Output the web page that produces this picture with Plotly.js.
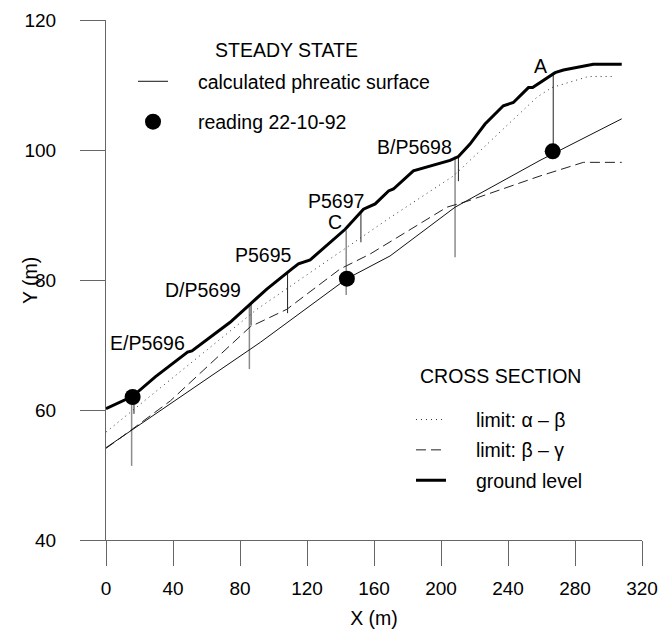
<!DOCTYPE html>
<html>
<head>
<meta charset="utf-8">
<script src="https://cdn.plot.ly/plotly-3.0.1.min.js"></script>
<style>html,body{margin:0;padding:0;background:#fff;}#chart{width:659px;height:629px;}</style>
</head>
<body>
<div id="chart"></div>
<script>
// ---- data (X in m, Y in m) ----
var groundX = [0, 15.9, 29.4, 48.7, 51.3, 74.1, 86.1, 96.0, 111.0, 114.9, 121.9, 142.8, 153.7, 160.7, 168.7, 171.6, 183.5, 205.4, 210.4, 217.3, 226.3, 234.3, 237.2, 243.2, 249.1, 252.2, 254.7, 268.1, 273.1, 290.9, 307.9];
var groundY = [60.2, 62.1, 65.1, 68.9, 69.1, 73.5, 76.3, 78.6, 81.7, 82.5, 83.1, 87.8, 90.9, 91.7, 93.7, 94.0, 96.8, 98.4, 99.0, 100.9, 104.0, 106.0, 106.8, 107.3, 108.9, 109.6, 109.6, 111.9, 112.3, 113.2, 113.2];

var alphaBetaX = [0, 90.1, 169.6, 207.4, 257.2, 266.1, 287.9, 304.0];
var alphaBetaY = [56.6, 75.5, 89.6, 96.0, 108.1, 109.6, 111.3, 111.3];

var betaGammaX = [0, 8.1, 38.4, 86.1, 108.0, 139.8, 157.7, 203.5, 215.4, 259.1, 285.0, 307.9];
var betaGammaY = [54.1, 55.6, 61.4, 72.8, 75.5, 81.7, 84.0, 91.2, 92.1, 96.0, 98.1, 98.1];

var phreaticX = [0, 92.1, 143.8, 169.6, 208.4, 259.1, 307.9];
var phreaticY = [54.2, 70.4, 80.2, 83.7, 91.2, 98.4, 104.8];

var readingX = [15.9, 143.8, 266.7];
var readingY = [62.0, 80.2, 99.8];

// boreholes: full depth (grey) and piezometer tips (black)
var holeX = [15.3, 85.6, 143.4, 208.4];
var holeTop = [62.0, 76.3, 87.6, 99.0];
var holeBottom = [51.4, 66.3, 77.7, 83.5];

var piezoX = [16.7, 86.6, 108.4, 152.2, 210.4, 267.0];
var piezoTop = [62.0, 76.3, 81.4, 90.4, 99.0, 111.9];
var piezoBottom = [59.4, 73.0, 74.9, 85.8, 95.2, 99.8];

var labelText = ["E/P5696", "D/P5699", "P5695", "P5697", "C", "B/P5698", "A"];
var labelX = [25.0, 58.1, 94.3, 137.4, 136.8, 184.0, 259.5];
var labelY = [70.25, 78.4, 83.9, 92.2, 88.9, 100.4, 113.0];

var xTicks = [0, 40, 80, 120, 160, 200, 240, 280, 320];
var yTicks = [40, 60, 80, 100, 120];

// ---- build ----
function segs(xs, tops, bots) {
  var x = [], y = [];
  for (var i = 0; i < xs.length; i++) { x.push(xs[i], xs[i], null); y.push(tops[i], bots[i], null); }
  return {x: x, y: y};
}
var hole = segs(holeX, holeTop, holeBottom);
var piezo = segs(piezoX, piezoTop, piezoBottom);

var FONT = "Liberation Sans, Arial, Helvetica, sans-serif";
var PAD = "\u2002\u2002\u00a0"; // gap between legend symbol and its text

var traces = [
  {x: hole.x, y: hole.y, mode: 'lines', line: {color: '#8c8c8c', width: 1.5}, showlegend: false, hoverinfo: 'skip'},
  {x: piezo.x, y: piezo.y, mode: 'lines', line: {color: '#222', width: 1}, showlegend: false, hoverinfo: 'skip'},
  {x: alphaBetaX, y: alphaBetaY, mode: 'lines', name: PAD + 'limit: α – β', line: {color: '#333', width: 1, dash: '1px,4px'},
   legend: 'legend2', legendgroup: 'ab', legendrank: 1},
  {x: betaGammaX, y: betaGammaY, mode: 'lines', name: PAD + 'limit: β – γ', line: {color: '#222', width: 1, dash: '10px,5px'},
   legend: 'legend2', legendgroup: 'bg', legendrank: 2},
  {x: phreaticX, y: phreaticY, mode: 'lines', name: PAD + 'calculated phreatic surface', line: {color: '#111', width: 1},
   legend: 'legend', legendgroup: 'ph', legendrank: 1},
  {x: groundX, y: groundY, mode: 'lines', name: PAD + 'ground level', line: {color: '#000', width: 3},
   legend: 'legend2', legendgroup: 'gl', legendrank: 3},
  {x: readingX, y: readingY, mode: 'markers', name: PAD + 'reading 22-10-92', marker: {color: '#000', size: 16},
   legend: 'legend', legendgroup: 'rd', legendrank: 2}
];

var txtFont = {family: FONT, size: 19.5, color: '#000'};
var annotations = labelText.map(function (t, i) {
  return {x: labelX[i], y: labelY[i], xref: 'x', yref: 'y', text: t, showarrow: false,
          xanchor: 'center', yanchor: 'middle', font: txtFont};
});
annotations.push({x: 0.3364, y: 0.9423, xref: 'paper', yref: 'paper', text: 'STEADY STATE', showarrow: false,
  xanchor: 'center', yanchor: 'middle', font: txtFont});
annotations.push({x: 0.736, y: 0.316, xref: 'paper', yref: 'paper', text: 'CROSS SECTION', showarrow: false,
  xanchor: 'center', yanchor: 'middle', font: txtFont});
// y-axis title (placed close to the tick labels as in the original)
annotations.push({x: -0.1418, y: 0.5, xref: 'paper', yref: 'paper', text: 'Y (m)', textangle: -90, showarrow: false,
  xanchor: 'center', yanchor: 'middle', font: txtFont});

var axisCommon = {
  showgrid: false, zeroline: false, showline: true, linecolor: '#666', linewidth: 1,
  ticks: 'outside', ticklen: 25, tickwidth: 1, tickcolor: '#666', ticklabeloverflow: 'allow',
  tickfont: {family: FONT, size: 19, color: '#000'}, fixedrange: true
};

function legendAt(x, y, gap) {
  return {x: x, y: y, xanchor: 'left', yanchor: 'top', bgcolor: 'rgba(0,0,0,0)', borderwidth: 0,
    tracegroupgap: gap, traceorder: 'grouped', font: txtFont};
}

var layout = {
  width: 659, height: 629,
  margin: {l: 106, r: 17, t: 20, b: 89},
  paper_bgcolor: '#fff', plot_bgcolor: '#fff',
  font: txtFont,
  xaxis: Object.assign({}, axisCommon, {range: [0, 320], tickvals: xTicks, ticklabelstandoff: 6,
    title: {text: 'X (m)', font: txtFont, standoff: 18}}),
  yaxis: Object.assign({}, axisCommon, {range: [40, 120], tickvals: yTicks, ticklabelstandoff: 20}),
  showlegend: true,
  legend: legendAt(0.0504, 0.919, 12),
  legend2: legendAt(0.569, 0.2686, 2),
  annotations: annotations,
  hovermode: false
};

Plotly.newPlot('chart', traces, layout, {displayModeBar: false, staticPlot: true});
</script>
</body>
</html>
